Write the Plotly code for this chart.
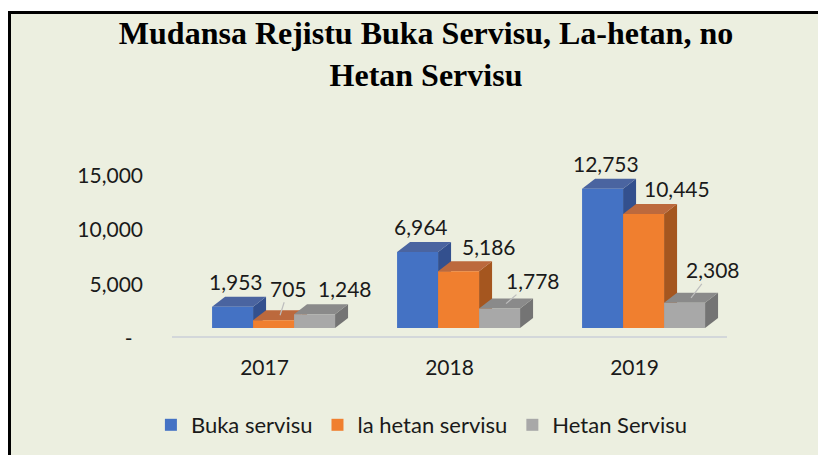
import plotly.graph_objects as go

# ---- data ----
years = ["2017", "2018", "2019"]
series_names = ["Buka servisu", "la hetan servisu", "Hetan Servisu"]
buka_servisu = [1953, 6964, 12753]
la_hetan_servisu = [705, 5186, 10445]
hetan_servisu = [1248, 1778, 2308]
y_tick_vals = [0, 5000, 10000, 15000]
y_tick_text = ["-\u2002", "5,000", "10,000", "15,000"]

series_values = [buka_servisu, la_hetan_servisu, hetan_servisu]

# ---- layout constants (page has an 8px body margin, so the figure is 818x447) ----
W, H = 818, 447
L, R, T = 164, 99, 142
ZERO_PX = 320          # figure pixel row of value 0 (front face of bars)
BASE_BELOW = 9         # floor line sits this many px below zero
BOTTOM_BELOW = 21      # plot area bottom, px below zero
B = H - (ZERO_PX + BOTTOM_BELOW)
PW, PH = W - L - R, H - T - B
u_per_px = 5000 / 54.6
YMIN = -BOTTOM_BELOW * u_per_px
YMAX = (ZERO_PX - T) * u_per_px
XMIN, XMAX = -0.5, 2.5
x_per_px = (XMAX - XMIN) / PW

front_cols = ["#4472C4", "#F07F2F", "#A8A8A8"]
top_cols = ["#4A64A0", "#BC693D", "#8A8A8A"]
side_cols = ["#33508E", "#A5561F", "#747474"]

bar_w = 41 * x_per_px
group_shift = 0.049
DEPTH_X_PX, DEPTH_Y_PX = 13, 10
depth_dx = DEPTH_X_PX * x_per_px
depth_dy = DEPTH_Y_PX * u_per_px
# label nudges in px relative to (front-face centre, back-top edge)
label_dx = [[3, 3, 3], [15, 30, 33], [30, 33, 28]]
label_dy = [[15, 15, 15], [22, 15, 15], [16, 18, 23]]
label_leader = [[False, False, False], [True, False, False], [False, True, True]]
tick_label_drop = 11 * u_per_px  # y tick labels sit ~11px below the bar scale

BG = "#ECEFE0"
FONT = "Lato"
TXT = "#1a1a1a"

fig = go.Figure()

side_shapes, top_shapes, annotations = [], [], []
for k, (name, vals) in enumerate(zip(series_names, series_values)):
    off = group_shift + (k - 1) * bar_w
    xs = [i + off for i in range(len(years))]
    fig.add_trace(go.Bar(
        x=xs, y=vals, width=bar_w, name=name,
        marker=dict(color=front_cols[k], line=dict(width=0)),
        hoverinfo="y+name",
    ))
    for i, (xc, v) in enumerate(zip(xs, vals)):
        x0, x1 = xc - bar_w / 2, xc + bar_w / 2
        top_shapes.append(dict(
            type="path", xref="x", yref="y", layer="below",
            path=f"M {x0},{v} L {x1},{v} L {x1+depth_dx},{v+depth_dy} L {x0+depth_dx},{v+depth_dy} Z",
            fillcolor=top_cols[k], line=dict(width=0),
        ))
        side_shapes.append(dict(
            type="path", xref="x", yref="y", layer="below",
            path=f"M {x1},0 L {x1+depth_dx},{depth_dy} L {x1+depth_dx},{v+depth_dy} L {x1},{v} Z",
            fillcolor=side_cols[k], line=dict(width=0),
        ))
        common = dict(text=f"{v:,}", xref="x", yref="y",
                      font=dict(family=FONT, size=21, color=TXT))
        if label_leader[k][i]:
            # anchor on the middle of the top face, leader line to the label
            annotations.append(dict(
                x=xc + depth_dx / 2, y=v + depth_dy / 2,
                showarrow=True, arrowhead=0, arrowwidth=1.2, arrowcolor="#BDBDBD",
                ax=label_dx[k][i] - DEPTH_X_PX / 2,
                ay=-(label_dy[k][i] + DEPTH_Y_PX / 2),
                standoff=0, startstandoff=0, **common,
            ))
        else:
            annotations.append(dict(
                x=xc, y=v + depth_dy, showarrow=False,
                xanchor="center", yanchor="middle",
                xshift=label_dx[k][i], yshift=label_dy[k][i], **common,
            ))

# background frame (white margin, black border at top/left)
px2x = lambda px: (px - L) / PW
px2y = lambda py: (H - B - py) / PH
frame = dict(
    type="rect", xref="paper", yref="paper", layer="below",
    x0=px2x(1.5), x1=px2x(W + 20), y0=px2y(H + 20), y1=px2y(4.5),
    fillcolor=BG, line=dict(color="#000000", width=3),
)
floor_line = dict(
    type="line", xref="paper", yref="y", layer="below",
    x0=0, x1=1, y0=-BASE_BELOW * u_per_px, y1=-BASE_BELOW * u_per_px,
    line=dict(color="#D3D7DA", width=2),
)

fig.update_layout(
    width=W, height=H,
    margin=dict(l=L, r=R, t=T, b=B, pad=0),
    paper_bgcolor="#FFFFFF",
    plot_bgcolor="rgba(0,0,0,0)",
    barmode="overlay",
    shapes=[frame, floor_line] + side_shapes + top_shapes,
    annotations=annotations,
    title=dict(
        text="Mudansa Rejistu Buka Servisu, La-hetan, no<br>Hetan Servisu",
        font=dict(family="Liberation Serif", size=32, color="#000000", weight="bold"),
        x=418 / W, xref="container", xanchor="center",
        y=1 - 36 / H, yref="container", yanchor="top",
    ),
    xaxis=dict(
        range=[XMIN, XMAX],
        tickvals=list(range(len(years))), ticktext=years,
        showgrid=False, zeroline=False, showline=False,
        ticks="", ticklabelstandoff=4,
        tickfont=dict(family=FONT, size=21, color=TXT),
        fixedrange=True,
    ),
    yaxis=dict(
        range=[YMIN, YMAX],
        tickvals=[v - tick_label_drop for v in y_tick_vals], ticktext=y_tick_text,
        showgrid=False, zeroline=False, showline=False,
        ticks="", ticklabelstandoff=28,
        tickfont=dict(family=FONT, size=21, color=TXT),
        fixedrange=True,
    ),
    legend=dict(
        orientation="h", xref="container", yref="container",
        x=0.506, xanchor="center", y=1 - 417 / H, yanchor="middle",
        font=dict(family=FONT, size=22, color=TXT),
        bgcolor="rgba(0,0,0,0)",
    ),
    showlegend=True,
)

fig.write_html("out.html")
